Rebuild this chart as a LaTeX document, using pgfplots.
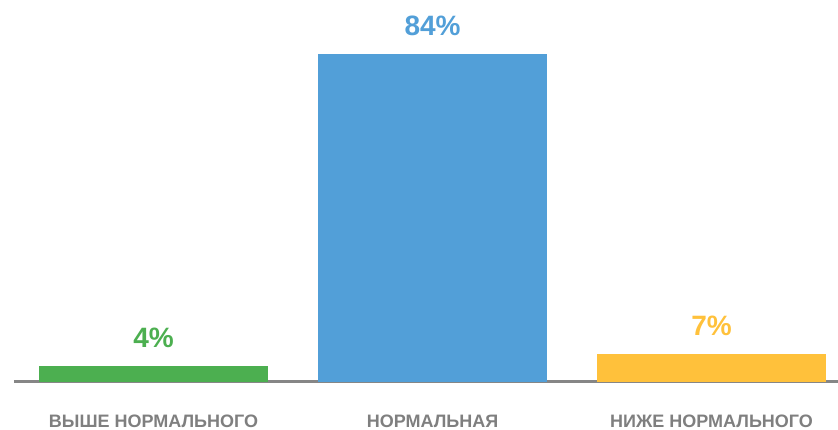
\documentclass[border=0pt]{standalone}
\usepackage{pgfplots}
\pgfplotsset{compat=1.18}
\usepackage{fontspec}
\setmainfont{Liberation Sans}
\definecolor{cgreen}{HTML}{4CAF50}
\definecolor{cblue}{HTML}{529FD8}
\definecolor{corange}{HTML}{FFC13B}
\definecolor{cgray}{HTML}{7F7F7F}
\definecolor{caxis}{HTML}{868686}
\begin{document}
\begin{tikzpicture}
\path[use as bounding box] (0,0) rectangle (838pt,429pt);
\begin{axis}[
  at={(14pt,47.5pt)}, anchor=south west,
  scale only axis, width=824pt, height=381.5pt,
  xmin=-0.5, xmax=2.453, ymin=0, ymax=97.7,
  clip=false,
  axis x line=bottom, axis y line=none,
  x axis line style={caxis, line width=3pt, -},
  xtick={0,1,2},
  xticklabels={ВЫШЕ НОРМАЛЬНОГО, НОРМАЛЬНАЯ, НИЖЕ НОРМАЛЬНОГО},
  major tick length=0pt,
  xticklabel style={inner sep=0pt, yshift=-33pt, font=\fontsize{18}{20}\selectfont\bfseries, text=cgray, anchor=north},
  ybar, bar width=229pt, bar shift=0pt,
  /pgf/number format/assume math mode=true,
  nodes near coords={\pgfmathprintnumber{\pgfplotspointmeta}\%},
  nodes near coords style={anchor=south, inner sep=0pt, yshift=18pt, font=\fontsize{28}{30}\selectfont\bfseries},
]
\addplot[fill=cgreen, draw=none, nodes near coords style={text=cgreen}] coordinates {(0,4)};
\addplot[fill=cblue, draw=none, nodes near coords style={text=cblue}] coordinates {(1,84)};
\addplot[fill=corange, draw=none, nodes near coords style={text=corange}] coordinates {(2,7)};
\end{axis}
\end{tikzpicture}
\end{document}
